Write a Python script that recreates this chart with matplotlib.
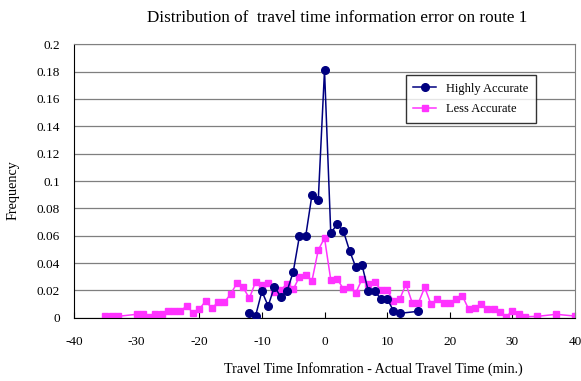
import matplotlib
matplotlib.use('Agg')
import matplotlib.pyplot as plt

# Error (min.) and frequency for the highly accurate information
high_x = [-12, -11, -10, -9, -8, -7, -6, -5, -4, -3, -2, -1, 0,
          1, 2, 3, 4, 5, 6, 7, 8, 9, 10, 11, 12, 15]
high_y = [0.0032, 0.0015, 0.0193, 0.0086, 0.0227, 0.0154, 0.0193, 0.0334,
          0.0598, 0.0598, 0.090, 0.086, 0.181,
          0.0617, 0.0685, 0.0636, 0.049, 0.0369, 0.0383, 0.0193, 0.0193,
          0.0139, 0.0139, 0.0051, 0.0032, 0.0047]

# Error (min.) and frequency for the less accurate information
low_x = [-35, -34, -33, -30, -29, -28, -27, -26, -25, -24, -23, -22, -21,
         -20, -19, -18, -17, -16, -15, -14, -13, -12, -11, -10, -9, -8, -7,
         -6, -5, -4, -3, -2, -1, 0, 1, 2, 3, 4, 5, 6, 7, 8, 9, 10, 11, 12,
         13, 14, 15, 16, 17, 18, 19, 20, 21, 22, 23, 24, 25, 26, 27, 28, 29,
         30, 31, 32, 34, 37, 40]
low_y = [0.001, 0.001, 0.001, 0.0025, 0.0025, 0.0007, 0.0025, 0.0025, 0.0047,
         0.0047, 0.0047, 0.0088, 0.0034,
         0.0061, 0.0122, 0.0071, 0.0112, 0.0112, 0.0173, 0.0251, 0.0222,
         0.0142, 0.0263, 0.0237, 0.0251, 0.0186, 0.0203,
         0.0246, 0.0207, 0.030, 0.0312, 0.0271, 0.0495, 0.0583, 0.0276,
         0.0286, 0.0211, 0.0222, 0.0183, 0.0283, 0.0246, 0.0261, 0.0203,
         0.0203, 0.012, 0.0134,
         0.0246, 0.011, 0.011, 0.0222, 0.0098, 0.0137, 0.0108, 0.0108,
         0.0134, 0.0161, 0.0064, 0.0073, 0.010, 0.0061, 0.0061, 0.0044,
         0.0007, 0.0049, 0.0027, 0.0007, 0.001, 0.0025, 0.0012]

x_ticks = [-40, -30, -20, -10, 0, 10, 20, 30, 40]
y_ticks = [0, 0.02, 0.04, 0.06, 0.08, 0.1, 0.12, 0.14, 0.16, 0.18, 0.2]
y_labels = ['0', '0.02', '0.04', '0.06', '0.08', '0.1', '0.12', '0.14',
            '0.16', '0.18', '0.2']

plt.rcParams['font.family'] = ['Liberation Serif', 'DejaVu Serif']
plt.rcParams['axes.unicode_minus'] = False

fig = plt.figure(figsize=(5.81, 3.81), dpi=100)
ax = fig.add_axes([0.1274, 0.1661, 0.8623, 0.7176])

ax.plot(high_x, high_y, color='#000080', marker='o', markersize=5.5,
        linewidth=1.1, label='Highly Accurate', zorder=3)
ax.plot(low_x, low_y, color='#FF33FF', marker='s', markersize=3.8,
        linewidth=1.1, label='Less Accurate', zorder=2)

ax.set_xlim(-40, 40)
ax.set_ylim(0, 0.2)
ax.set_xticks(x_ticks)
ax.set_yticks(y_ticks)
ax.set_yticklabels(y_labels)
ax.grid(axis='y', color='#7f7f7f', linewidth=0.9)
ax.set_axisbelow(True)

for side in ['top', 'right']:
    ax.spines[side].set_color('#808080')
for side in ['left', 'bottom']:
    ax.spines[side].set_color('black')

ax.tick_params(axis='x', direction='in', length=4, pad=13, labelsize=9.5)
ax.tick_params(axis='y', length=0, pad=10, labelsize=9.5)

ax.set_title('Distribution of  travel time information error on route 1',
             fontsize=12.3, pad=16, x=0.525)
ax.set_xlabel('Travel Time Infomration - Actual Travel Time (min.)',
              fontsize=10.2)
ax.xaxis.set_label_coords(0.597, -0.162)
ax.set_ylabel('Frequency', fontsize=10.2)
ax.yaxis.set_label_coords(-0.108, 0.467)

leg = ax.legend(loc='upper right', bbox_to_anchor=(0.934, 0.91),
                fontsize=9, frameon=True, fancybox=False,
                borderpad=0.6, handlelength=1.8, labelspacing=0.7)
leg.get_frame().set_edgecolor('black')
leg.get_frame().set_linewidth(1.0)

fig.savefig('out.png', dpi=100)
